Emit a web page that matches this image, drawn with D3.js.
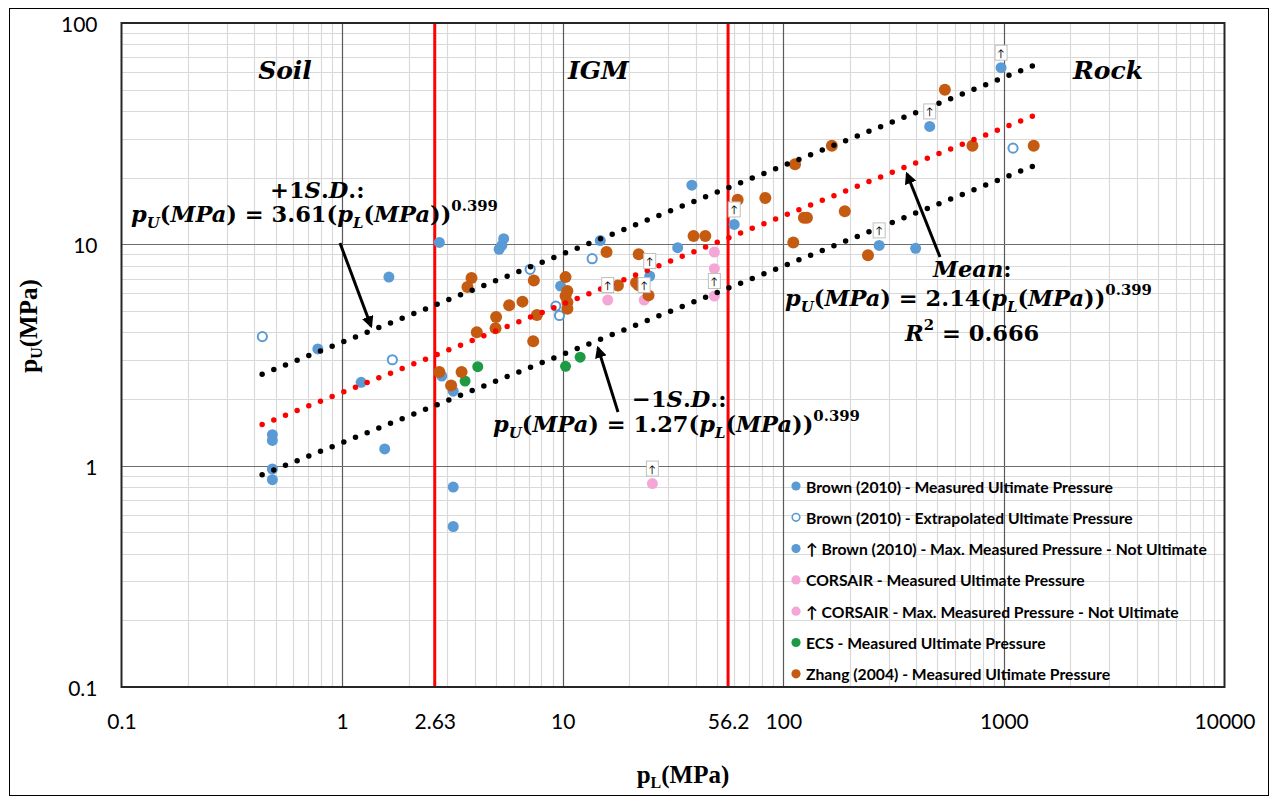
<!DOCTYPE html>
<html lang="en">
<head>
<meta charset="UTF-8">
<title>Ultimate pressure vs limit pressure</title>
<style>
    body { margin: 0; background: #fff; }
    svg text { font-family: Lato, "Liberation Sans", sans-serif; }
    .math { font-family: "DejaVu Serif", serif; font-weight: bold; }
    .title { font-family: "Liberation Serif", serif; font-weight: bold; }
</style>
</head>
<body>
<svg id="chart" width="1274" height="799"></svg>
<script src="https://cdnjs.cloudflare.com/ajax/libs/d3/7.8.5/d3.min.js"></script>
<script>

    // ---- data: [pL (MPa), pU (MPa)] ----
    var brownMeasured = [
        [0.776, 3.37], [1.63, 7.11], [1.22, 2.38], [0.483, 1.38], [0.483, 1.30],
        [1.56, 1.19], [0.483, 0.966], [0.483, 0.864], [3.19, 0.80], [3.19, 0.531],
        [2.76, 10.2], [5.4, 10.6], [5.3, 9.9], [5.15, 9.5], [2.83, 2.54],
        [3.19, 2.17], [9.78, 6.48], [14.8, 10.4], [33.2, 9.66], [38.5, 18.5],
        [398, 9.59]
    ];
    var brownExtrapolated = [
        [0.435, 3.83], [1.69, 3.01], [7.12, 7.71], [9.31, 5.26], [9.67, 4.77],
        [13.6, 8.61], [1100, 27.2]
    ];
    var brownNotUltimate = [
        [24.8, 7.19], [59.9, 12.3], [272, 9.89], [461, 34.1], [971, 62.8]
    ];
    var corsairMeasured = [
        [48.7, 9.23], [48.7, 7.76]
    ];
    var corsairNotUltimate = [
        [16.0, 5.60], [23.4, 5.60], [48.7, 5.84], [25.5, 0.83]
    ];
    var ecsMeasured = [
        [3.61, 2.41], [4.12, 2.80], [10.3, 2.81], [12.0, 3.09]
    ];
    var zhangMeasured = [
        [3.86, 7.04], [3.70, 6.41], [2.76, 2.65], [3.12, 2.30], [3.48, 2.65],
        [4.08, 4.01], [4.99, 4.69], [4.96, 4.18], [7.40, 6.87], [5.72, 5.31],
        [6.57, 5.51], [7.64, 4.79], [7.35, 3.65], [10.3, 7.11], [10.5, 6.15],
        [10.3, 5.84], [10.5, 5.48], [10.5, 5.12], [15.8, 9.23], [17.8, 6.52],
        [22.1, 9.01], [21.5, 6.70], [22.1, 6.54], [24.5, 5.88], [39.2, 10.9],
        [44.3, 10.9], [62.1, 15.9], [82.9, 16.2], [113, 23.0], [166, 27.9],
        [124, 13.2], [128, 13.2], [111, 10.2], [190, 14.1], [242, 8.92],
        [540, 49.9], [720, 27.9], [1365, 27.9]
    ];

    // power-law fits pU = c * pL^b  (+1 S.D., mean, -1 S.D.)
    var fitCoefs = [3.61, 2.14, 1.27];
    var fitExponent = 0.399;
    var fitRange = [0.434, 1354];
    var rSquared = '0.666';

    // material boundaries and axis labels
    var zoneBounds = [2.63, 56.2];
    var zoneNames = ['Soil', 'IGM', 'Rock'];
    var xTickValues = [0.1, 1, 2.63, 10, 56.2, 100, 1000, 10000];
    var xTickLabels = ['0.1', '1', '2.63', '10', '56.2', '100', '1000', '10000'];
    var yTickValues = [0.1, 1, 10, 100];
    var yTickLabels = ['0.1', '1', '10', '100'];

    var legendLabels = [
        'Brown (2010) - Measured Ultimate Pressure',
        'Brown (2010) - Extrapolated Ultimate Pressure',
        '\u2191 Brown (2010) - Max. Measured Pressure - Not Ultimate',
        'CORSAIR - Measured Ultimate Pressure',
        '\u2191 CORSAIR - Max. Measured Pressure - Not Ultimate',
        'ECS - Measured Ultimate Pressure',
        'Zhang (2004) - Measured Ultimate Pressure'
    ];

    // ---- layout ----
    var svg = d3.select('#chart');
    var plot = { left: 121.5, top: 23, right: 1224.5, bottom: 687 };

    var x = d3.scaleLog().domain([0.1, 10000]).range([plot.left, plot.right]);
    var y = d3.scaleLog().domain([0.1, 100]).range([plot.bottom, plot.top]);

    var blue = '#5b9bd5', pink = '#f4a6d7', green = '#1e9a45', orange = '#c55a11';

    // outer frame
    svg.append('rect')
        .attr('x', 9.5).attr('y', 8.5).attr('width', 1259).attr('height', 787)
        .attr('fill', '#fff').attr('stroke', '#000').attr('stroke-width', 1);

    // ---- gridlines ----
    var decades = [0.1, 1, 10, 100, 1000];
    var minorX = [], minorY = [];
    decades.forEach(function (d) {
        for (var k = 2; k <= 9; k++) {
            minorX.push(d * k);
            if (d < 100) minorY.push(d * k);
        }
    });
    var grid = svg.append('g');
    grid.selectAll('.mx').data(minorX).enter().append('line')
        .attr('x1', function (d) { return Math.round(x(d)) + 0.5; })
        .attr('x2', function (d) { return Math.round(x(d)) + 0.5; })
        .attr('y1', plot.top).attr('y2', plot.bottom)
        .attr('stroke', '#d9d9d9').attr('stroke-width', 1.2);
    grid.selectAll('.my').data(minorY).enter().append('line')
        .attr('y1', function (d) { return Math.round(y(d)) + 0.5; })
        .attr('y2', function (d) { return Math.round(y(d)) + 0.5; })
        .attr('x1', plot.left).attr('x2', plot.right)
        .attr('stroke', '#d9d9d9').attr('stroke-width', 1.2);
    grid.selectAll('.Mx').data([1, 10, 100, 1000]).enter().append('line')
        .attr('x1', function (d) { return Math.round(x(d)) + 0.5; })
        .attr('x2', function (d) { return Math.round(x(d)) + 0.5; })
        .attr('y1', plot.top).attr('y2', plot.bottom)
        .attr('stroke', '#5a5a5a').attr('stroke-width', 1.2);
    grid.selectAll('.My').data([1, 10]).enter().append('line')
        .attr('y1', function (d) { return Math.round(y(d)) + 0.5; })
        .attr('y2', function (d) { return Math.round(y(d)) + 0.5; })
        .attr('x1', plot.left).attr('x2', plot.right)
        .attr('stroke', '#6e6e6e').attr('stroke-width', 1.2);

    // soil / IGM / rock boundaries
    svg.append('g').selectAll('line').data(zoneBounds).enter().append('line')
        .attr('x1', function (d) { return x(d); })
        .attr('x2', function (d) { return x(d); })
        .attr('y1', plot.top).attr('y2', plot.bottom)
        .attr('stroke', '#ff0000').attr('stroke-width', 3);

    // ---- axes (labels only, the frame is drawn separately) ----
    var xAxis = d3.axisBottom(x).tickValues(xTickValues).tickSize(0)
        .tickFormat(function (d, i) { return xTickLabels[i]; });
    var gx = svg.append('g').attr('transform', 'translate(0,' + plot.bottom + ')').call(xAxis);
    gx.select('.domain').remove();
    gx.selectAll('text').attr('dy', null).attr('y', 33).attr('dominant-baseline', 'central')
        .attr('font-family', 'Lato').attr('font-size', 21).attr('fill', '#000');

    var yAxis = d3.axisLeft(y).tickValues(yTickValues).tickSize(0)
        .tickFormat(function (d, i) { return yTickLabels[i]; });
    var gy = svg.append('g').attr('transform', 'translate(' + plot.left + ',0)').call(yAxis);
    gy.select('.domain').remove();
    gy.selectAll('text').attr('dy', null).attr('x', -24).attr('dominant-baseline', 'central')
        .attr('font-family', 'Lato').attr('font-size', 21).attr('fill', '#000');

    // ---- data points ----
    var pts = svg.append('g');
    function dots(data, fill, stroke, r) {
        pts.append('g').selectAll('circle').data(data).enter().append('circle')
            .attr('cx', function (d) { return x(d[0]); })
            .attr('cy', function (d) { return y(d[1]); })
            .attr('r', r)
            .attr('fill', fill)
            .attr('stroke', stroke)
            .attr('stroke-width', stroke === 'none' ? 0 : 2);
    }
    dots(brownMeasured, blue, 'none', 5.5);
    dots(brownExtrapolated, '#fff', blue, 4.6);
    dots(brownNotUltimate, blue, 'none', 5.5);
    dots(corsairMeasured, pink, 'none', 5.5);
    dots(corsairNotUltimate, pink, 'none', 5.5);
    dots(ecsMeasured, green, 'none', 5.5);
    dots(zhangMeasured, orange, 'none', 6);

    // ---- fitted lines ----
    var fitColors = ['#000', '#ff0000', '#000'];
    var line = d3.line()
        .x(function (d) { return x(d[0]); })
        .y(function (d) { return y(d[1]); });
    fitCoefs.forEach(function (c, i) {
        var ends = fitRange.map(function (p) { return [p, c * Math.pow(p, fitExponent)]; });
        svg.append('path')
            .attr('d', line(ends))
            .attr('fill', 'none')
            .attr('stroke', fitColors[i])
            .attr('stroke-width', 5.5)
            .attr('stroke-linecap', 'round')
            .attr('stroke-dasharray', '0 12.57');
    });

    // "not ultimate" flags above the points
    var flags = svg.append('g');
    brownNotUltimate.concat(corsairNotUltimate).forEach(function (d) {
        var cx = x(d[0]), cy = y(d[1]) - 15;
        flags.append('rect')
            .attr('x', cx - 6).attr('y', cy - 7.5).attr('width', 12).attr('height', 15)
            .attr('fill', '#fff').attr('stroke', '#bfbfbf').attr('stroke-width', 1);
        flags.append('text')
            .attr('x', cx).attr('y', cy).attr('text-anchor', 'middle')
            .attr('dominant-baseline', 'central')
            .attr('font-family', 'DejaVu Sans').attr('font-size', 10).attr('fill', '#000')
            .text('\u2191');
    });

    // plot frame
    svg.append('rect')
        .attr('x', plot.left).attr('y', plot.top)
        .attr('width', plot.right - plot.left).attr('height', plot.bottom - plot.top)
        .attr('fill', 'none').attr('stroke', '#262626').attr('stroke-width', 2);

    // ---- axis titles ----
    var xt = svg.append('text').attr('class', 'title')
        .attr('x', 683).attr('y', 783).attr('text-anchor', 'middle').attr('font-size', 25);
    xt.append('tspan').text('p');
    xt.append('tspan').attr('font-size', 16).attr('dy', 5).text('L');
    xt.append('tspan').attr('dy', -5).text('(MPa)');

    var yt = svg.append('text').attr('class', 'title')
        .attr('transform', 'translate(37,326) rotate(-90)')
        .attr('text-anchor', 'middle').attr('font-size', 25);
    yt.append('tspan').text('p');
    yt.append('tspan').attr('font-size', 16).attr('dy', 5).text('U');
    yt.append('tspan').attr('dy', -5).text('(MPa)');

    // ---- zone names ----
    var zoneAt = [0.551, 14.5, 2965];
    svg.append('g').selectAll('text').data(zoneNames).enter().append('text')
        .attr('class', 'math')
        .attr('x', function (d, i) { return x(zoneAt[i]); })
        .attr('y', 79)
        .attr('text-anchor', 'middle')
        .attr('font-style', 'italic')
        .attr('font-size', 25)
        .text(function (d) { return d; });

    // ---- equation annotations ----
    function mathText(px, py, parts, size) {
        var t = svg.append('text').attr('class', 'math')
            .attr('x', px).attr('y', py).attr('font-size', size);
        var shift = 0;
        parts.forEach(function (p) {
            var target = p.sub ? size * 0.28 : p.sup ? -size * 0.48 : 0;
            var s = t.append('tspan').text(p.t).attr('dy', target - shift);
            shift = target;
            if (p.i) s.attr('font-style', 'italic');
            if (p.sub || p.sup) s.attr('font-size', size * 0.66);
        });
        return t;
    }
    function fitParts(c) {
        return [
            { t: 'p', i: 1 }, { t: 'U', i: 1, sub: 1 }, { t: '(' }, { t: 'MPa', i: 1 },
            { t: ') = ' + c + '(' }, { t: 'p', i: 1 }, { t: 'L', i: 1, sub: 1 }, { t: '(' },
            { t: 'MPa', i: 1 }, { t: '))' }, { t: String(fitExponent), sup: 1 }
        ];
    }
    // size the equations to their width in the figure
    var probe = mathText(0, -100, fitParts(fitCoefs[0].toFixed(2)), 20);
    var eqSize = 20 * 367 / probe.node().getComputedTextLength();
    probe.remove();

    mathText(270, 198, [{ t: '+1' }, { t: 'S', i: 1 }, { t: '.' }, { t: 'D', i: 1 }, { t: '.:' }], eqSize);
    mathText(131, 222, fitParts(fitCoefs[0].toFixed(2)), eqSize);

    mathText(933, 277, [{ t: 'Mean', i: 1 }, { t: ':' }], eqSize);
    mathText(785, 306, fitParts(fitCoefs[1].toFixed(2)), eqSize);
    mathText(905, 341, [{ t: 'R', i: 1 }, { t: '2', sup: 1 }, { t: ' = ' + rSquared }], eqSize);

    mathText(632, 407, [{ t: '\u22121' }, { t: 'S', i: 1 }, { t: '.' }, { t: 'D', i: 1 }, { t: '.:' }], eqSize);
    mathText(493, 432, fitParts(fitCoefs[2].toFixed(2)), eqSize);

    // pointer arrows
    svg.append('defs').append('marker')
        .attr('id', 'head').attr('viewBox', '0 0 10 10')
        .attr('refX', 8).attr('refY', 5)
        .attr('markerWidth', 4).attr('markerHeight', 4)
        .attr('orient', 'auto')
        .append('path').attr('d', 'M0,0 L10,5 L0,10 z').attr('fill', '#000');
    var pointers = [
        [340, 243, 371, 326],
        [940, 257, 907, 174],
        [618, 412, 598, 348]
    ];
    svg.append('g').selectAll('line').data(pointers).enter().append('line')
        .attr('x1', function (d) { return d[0]; }).attr('y1', function (d) { return d[1]; })
        .attr('x2', function (d) { return d[2]; }).attr('y2', function (d) { return d[3]; })
        .attr('stroke', '#000').attr('stroke-width', 3)
        .attr('marker-end', 'url(#head)');

    // ---- legend ----
    var legendStyles = [
        { fill: blue, stroke: 'none' },
        { fill: '#fff', stroke: blue },
        { fill: blue, stroke: 'none' },
        { fill: pink, stroke: 'none' },
        { fill: pink, stroke: 'none' },
        { fill: green, stroke: 'none' },
        { fill: orange, stroke: 'none' }
    ];
    var legend = svg.append('g').attr('transform', 'translate(796,486)');
    var rows = legend.selectAll('g').data(legendLabels).enter().append('g')
        .attr('transform', function (d, i) { return 'translate(0,' + (i * 31.3) + ')'; });
    rows.append('circle')
        .attr('r', function (d, i) { return legendStyles[i].stroke === 'none' ? 4.6 : 3.8; })
        .attr('fill', function (d, i) { return legendStyles[i].fill; })
        .attr('stroke', function (d, i) { return legendStyles[i].stroke; })
        .attr('stroke-width', 1.6);
    var ltext = rows.append('text')
        .attr('x', 10).attr('dominant-baseline', 'central')
        .attr('font-weight', 'bold').attr('font-size', 14).attr('fill', '#000')
        .text(function (d) { return d; });
    var lsize = 14 * 307 / ltext.nodes()[0].getComputedTextLength();
    ltext.attr('font-size', lsize);
</script>
</body>
</html>
